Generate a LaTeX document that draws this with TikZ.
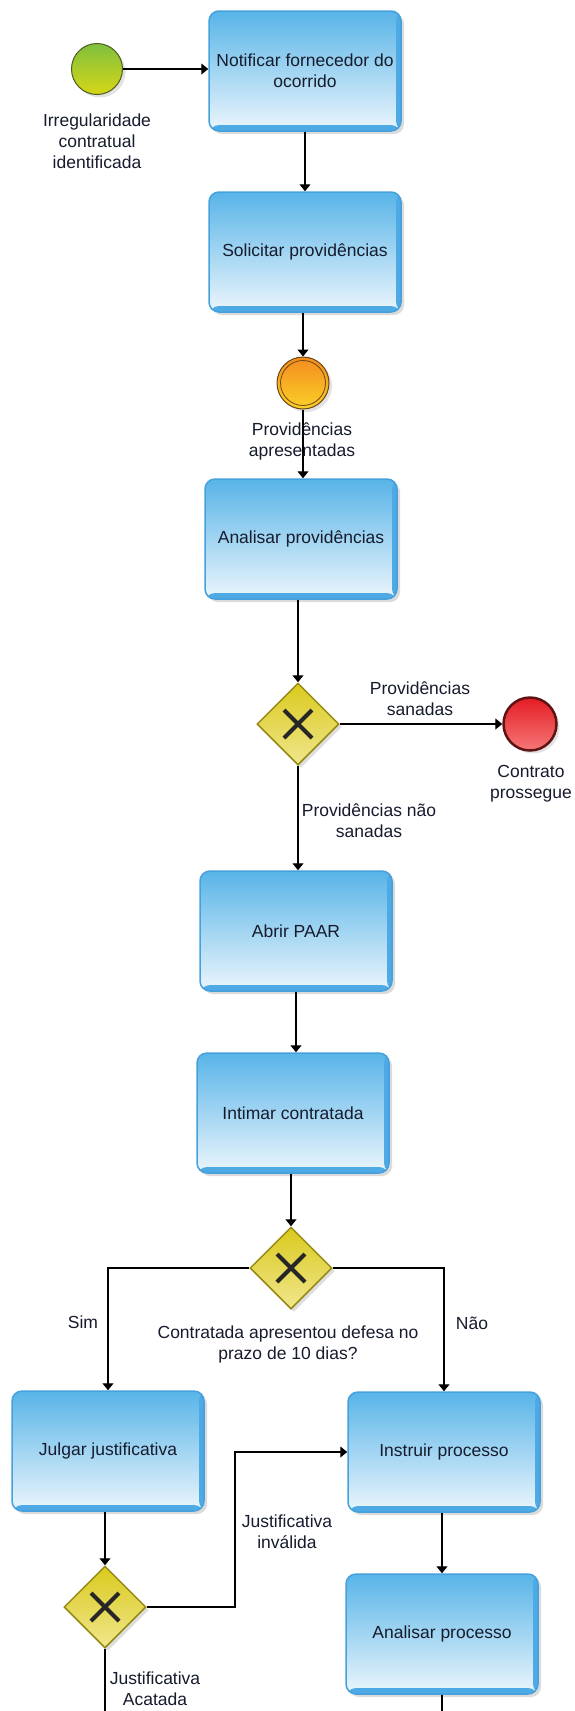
\documentclass[tikz,border=0pt]{standalone}
\usepackage{fontspec}
\setmainfont{Liberation Sans}
\usetikzlibrary{shapes.geometric,arrows.meta,shadows}

\definecolor{taskTop}{RGB}{88,180,232}
\definecolor{taskBot}{RGB}{236,246,252}
\definecolor{taskEdge}{RGB}{70,160,220}
\definecolor{taskBand}{RGB}{78,170,228}
\definecolor{txtc}{RGB}{22,28,45}
\definecolor{gwTop}{RGB}{218,202,30}
\definecolor{gwBot}{RGB}{240,230,140}
\definecolor{gwEdge}{RGB}{150,138,20}
\definecolor{stTop}{RGB}{128,192,62}
\definecolor{stBot}{RGB}{214,214,22}
\definecolor{stEdge}{RGB}{78,90,30}
\definecolor{imTop}{RGB}{244,140,30}
\definecolor{imBot}{RGB}{250,208,40}
\definecolor{imEdge}{RGB}{110,70,20}
\definecolor{enTop}{RGB}{228,28,36}
\definecolor{enBot}{RGB}{246,120,120}
\definecolor{enEdge}{RGB}{95,20,20}

\newcommand\diagfont{\fontsize{17.5}{21}\selectfont}

\tikzset{
  taskbox/.style={rectangle, rounded corners=10pt, minimum width=192pt, minimum height=120pt,
    top color=taskTop, bottom color=taskBot, draw=taskEdge, line width=1.5pt,
    align=center, font=\diagfont, text=txtc,
    drop shadow={shadow xshift=3pt, shadow yshift=-3pt, fill=black!28},
    path picture={
      \fill[taskBand] ([yshift=6pt]path picture bounding box.south west) rectangle (path picture bounding box.south east);
      \fill[taskBand] ([xshift=-5pt]path picture bounding box.north east) rectangle (path picture bounding box.south east);
    }},
  gateway/.style={diamond, aspect=1, minimum width=82pt, minimum height=82pt, inner sep=0pt,
    top color=gwTop, bottom color=gwBot, draw=gwEdge, line width=1.5pt,
    drop shadow={shadow xshift=3pt, shadow yshift=-3pt, fill=black!25},
    path picture={
      \draw[line width=4pt, black!85]
        ([shift={(-14pt,-14pt)}]path picture bounding box.center) -- ([shift={(14pt,14pt)}]path picture bounding box.center)
        ([shift={(-14pt,14pt)}]path picture bounding box.center) -- ([shift={(14pt,-14pt)}]path picture bounding box.center);
    }},
  startev/.style={circle, minimum size=51pt, inner sep=0pt, top color=stTop, bottom color=stBot,
    draw=stEdge, line width=1pt, drop shadow={shadow xshift=3pt, shadow yshift=-3pt, fill=black!22}},
  interev/.style={circle, minimum size=52pt, inner sep=0pt, top color=imTop, bottom color=imBot,
    draw=imEdge, line width=1pt, drop shadow={shadow xshift=3pt, shadow yshift=-3pt, fill=black!22},
    path picture={\draw[imEdge, line width=0.8pt] (path picture bounding box.center) circle (22.5pt);}},
  endev/.style={circle, minimum size=53pt, inner sep=0pt, top color=enTop, bottom color=enBot,
    draw=enEdge, line width=2.5pt, drop shadow={shadow xshift=3pt, shadow yshift=-3pt, fill=black!22}},
  lbl/.style={align=center, font=\diagfont, text=txtc, inner sep=0pt},
  flow/.style={draw=black, line width=1.2pt, -{Triangle[width=11pt,length=7pt]}},
  plainflow/.style={draw=black, line width=1.2pt},
}

\begin{document}
\begin{tikzpicture}[x=1pt,y=-1pt]
\fill[white] (0,0) rectangle (575,1711);
\useasboundingbox (0,0) rectangle (575,1711);

% events and tasks
\node[startev] (start) at (97,69) {};
\node[lbl] (startlbl) at (97,141) {Irregularidade\\contratual\\identificada};

\node[taskbox] (t1) at (305,71) {Notificar fornecedor do\\ocorrido};
\node[taskbox] (t2) at (305,252) {Solicitar providências};

\node[interev] (inter) at (303,383) {};
\node[lbl] (interlbl) at (302,441) {Providências\\apresentadas};

\node[taskbox] (t3) at (301,539) {Analisar providências};

\node[gateway] (g1) at (298,724) {};
\node[endev] (endc) at (530,724) {};
\node[lbl] (g1lblA) at (420,699) {Providências\\sanadas};
\node[lbl] (endlbl) at (531,784) {Contrato\\prossegue};
\node[lbl] (g1lblB) at (369,821) {Providências não\\sanadas};

\node[taskbox] (t4) at (296,931) {Abrir PAAR};
\node[taskbox] (t5) at (293,1113) {Intimar contratada};

\node[gateway] (g2) at (291,1268) {};
\node[lbl] (simlbl) at (83,1322) {Sim};
\node[lbl] (naolbl) at (472,1323) {Não};
\node[lbl] (qlbl) at (288,1344) {Contratada apresentou defesa no\\prazo de 10 dias?};

\node[taskbox] (t6) at (108,1451) {Julgar justificativa};
\node[taskbox] (t7) at (444,1452) {Instruir processo};

\node[gateway] (g3) at (105,1607) {};
\node[lbl] (invlbl) at (287,1532) {Justificativa\\inválida};
\node[lbl] (acalbl) at (155,1689) {Justificativa\\Acatada};

\node[taskbox] (t8) at (442,1634) {Analisar processo};

\coordinate (bendJ) at (235,1607);
\coordinate (outA) at (105,1711);
\coordinate (outB) at (442,1711);

% connectors
\draw[flow] (start.east) -- (start.east -| t1.west);
\draw[flow] (t1.south) -- (t1.south |- t2.north);
\draw[flow] (inter.north |- t2.south) -- (inter.north);
\draw[flow] (inter.south) -- (inter.south |- t3.north);
\draw[flow] (g1.north |- t3.south) -- (g1.north);
\draw[flow] (g1.east) -- (endc.west);
\draw[flow] (g1.south) -- (g1.south |- t4.north);
\draw[flow] (t4.south) -- (t4.south |- t5.north);
\draw[flow] (g2.north |- t5.south) -- (g2.north);
\draw[flow] (g2.west) -| (t6.north);
\draw[flow] (g2.east) -| (t7.north);
\draw[flow] (g3.north |- t6.south) -- (g3.north);
\draw[flow] (g3.east) -- (bendJ) |- (t7.west);
\draw[plainflow] (g3.south) -- (outA);
\draw[flow] (t8.north |- t7.south) -- (t8.north);
\draw[plainflow] (t8.south) -- (outB);
\end{tikzpicture}
\end{document}
